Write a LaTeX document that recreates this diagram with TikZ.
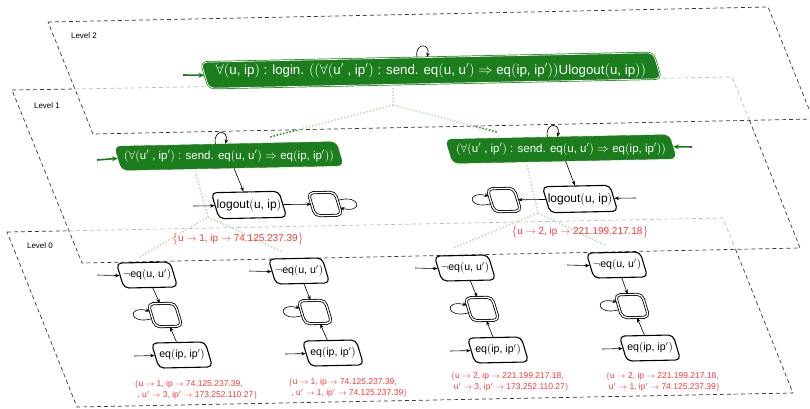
\documentclass[tikz,border=0pt]{standalone}
\usepackage{fontspec}
\setmainfont{Liberation Sans}
\usetikzlibrary{arrows.meta}
\definecolor{G}{RGB}{28,125,28}
\definecolor{Gd}{RGB}{45,145,45}
\definecolor{Gl}{RGB}{185,222,185}
\definecolor{R}{RGB}{250,55,55}
\definecolor{Dk}{RGB}{55,55,55}
\definecolor{Lt}{RGB}{190,190,190}
\newcommand{\bpl}{$\bigl($}
\newcommand{\bpr}{$\bigr)$}
\newcommand{\prm}{$'$}
\newcommand{\myra}{$\rightarrow$}
\newcommand{\lbr}{$\bigl\{$}
\newcommand{\rbr}{$\bigr\}$}
\newcommand{\slbr}{$\{$}
\newcommand{\srbr}{$\}$}
\begin{document}
\begin{tikzpicture}[x=1pt,y=-1pt,
  plane/.style={draw=Dk, line width=0.7pt, dash pattern=on 4pt off 3pt},
  planel/.style={draw=Lt, line width=0.7pt, dash pattern=on 4pt off 3pt},
  sl/.style={xslant=-0.28, rotate=1.2},
  wbox/.style={sl, draw=black, line width=1.1pt, rounded corners=5pt, fill=white, minimum height=25pt, inner sep=0pt},
  accst/.style={sl, draw=black, line width=0.8pt, double=white, double distance=1.3pt, rounded corners=5pt, fill=white, minimum width=27pt, minimum height=23pt, inner sep=0pt},
  gbox/.style={sl, fill=G, draw=G, rounded corners=6pt, minimum height=24pt, inner sep=0pt},
  wtxt/.style={inner sep=0pt, font=\fontsize{12}{14}\selectfont},
  gtxt/.style={inner sep=0pt, text=white},
  arr/.style={-{Stealth[length=4.5pt,width=3.5pt]}, line width=0.6pt, draw=black},
  arrl/.style={-{Stealth[length=4.5pt,width=3.5pt]}, line width=0.6pt, draw=Lt},
  garr/.style={-{Stealth[length=6pt,width=5pt]}, line width=1.6pt, draw=G},
  proj/.style={dash pattern=on 1.5pt off 1.8pt, line width=1.5pt},
  lab/.style={text=R, font=\fontsize{8.5}{10.5}\selectfont, align=left, inner sep=0pt},
  lvl/.style={font=\fontsize{8}{9}\selectfont, inner sep=0pt}
]
\useasboundingbox (0,0) rectangle (810,408);

% ---- planes ----
% Level 2
\draw[plane] (48,22) -- (768,7) -- (813,119) -- (93,134) -- cycle;
% Level 1
\draw[plane] (12,90) -- (75,89);
\draw[planel] (75,89) -- (732,77) -- (749.5,120.3);
\draw[plane] (749.5,120.3) -- (800,248) -- (82,263) -- (12,90);
% Level 0
\draw[plane] (7,232) -- (69,230.8);
\draw[planel] (69,230.8) -- (723,218) -- (735.5,249.3);
\draw[plane] (735.5,249.3) -- (793,393) -- (77,407) -- (7,232);

\node[lvl] (lv2) at (84,36) {Level 2};
\node[lvl] (lv1) at (47,106) {Level 1};
\node[lvl] (lv0) at (40,246) {Level 0};

% ---- projection lines ----
\coordinate (p2) at (393,88);
\coordinate (j2) at (393,105);
\coordinate (p1a) at (270,137);
\coordinate (p1b) at (497,132);
\draw[proj, Gl] (p2) -- (j2) -- (p1a);
\draw[proj, Gl] (j2) -- (p1b);
\begin{scope}
  \clip (0,135.9) -- (820,118.9) -- (820,420) -- (0,420) -- cycle;
  \draw[proj, Gd] (j2) -- (p1a);
  \draw[proj, Gd] (j2) -- (p1b);
\end{scope}
\coordinate (q1a) at (195,171);
\coordinate (k1a) at (208,217);
\coordinate (r1) at (140,257);
\coordinate (r2) at (283,252);
\coordinate (q1b) at (527,165);
\coordinate (k1b) at (538,213);
\coordinate (r3) at (453,248);
\coordinate (r4) at (605,245);
\draw[proj, Gl] (q1a) -- (k1a) -- (r1);
\draw[proj, Gl] (k1a) -- (r2);
\draw[proj, Gl] (q1b) -- (k1b) -- (r3);
\draw[proj, Gl] (k1b) -- (r4);

% ---- Level 2 ----
\node[gbox, double=white, line width=0.7pt, double distance=0.7pt, minimum width=455pt, minimum height=26pt] (L2) at (431,70.5) {};
\node[gtxt, font=\fontsize{13.3}{15}\selectfont] (tL2) at (L2.center) {$\forall$\bpl u, ip\bpr\ : login. \bpl\bpl$\forall$\bpl u\prm\ , ip\prm\bpr\ : send. eq\bpl u, u\prm\bpr\ $\Rightarrow$ eq\bpl ip, ip\prm\bpr\bpr Ulogout\bpl u, ip\bpr\bpr};
\coordinate (i2) at (183,75);
\draw[garr] (i2) -- (L2.west);
\draw[arr] ([xshift=-10pt]L2.north) to[out=100,in=75,min distance=15pt] ([xshift=0pt]L2.north);

% ---- Level 1 ----
\node[gbox, minimum width=223pt] (L1a) at (229,156) {};
\node[gtxt, font=\fontsize{11.5}{13}\selectfont] (tL1a) at (L1a.center) {\bpl$\forall$\bpl u\prm\ , ip\prm\bpr\ : send. eq\bpl u, u\prm\bpr\ $\Rightarrow$ eq\bpl ip, ip\prm\bpr\bpr};
\node[gbox, minimum width=225pt] (L1b) at (561,149) {};
\node[gtxt, font=\fontsize{11.5}{13}\selectfont] (tL1b) at (L1b.center) {\bpl$\forall$\bpl u\prm\ , ip\prm\bpr\ : send. eq\bpl u, u\prm\bpr\ $\Rightarrow$ eq\bpl ip, ip\prm\bpr\bpr};
\coordinate (i1a) at (97,160);
\coordinate (i1b) at (692,147);
\draw[garr] (i1a) -- (L1a.west);
\draw[garr] (i1b) -- (L1b.east);
\draw[arrl] ([xshift=-10pt]L1a.north) to[out=100,in=75,min distance=15pt] ([xshift=0pt]L1a.north);
\draw[arrl] ([xshift=-10pt]L1b.north) to[out=100,in=75,min distance=15pt] ([xshift=0pt]L1b.north);
\begin{scope}
  \clip (0,135.9) -- (820,118.9) -- (820,420) -- (0,420) -- cycle;
  \draw[arr] ([xshift=-10pt]L1a.north) to[out=100,in=75,min distance=15pt] ([xshift=0pt]L1a.north);
  \draw[arr] ([xshift=-10pt]L1b.north) to[out=100,in=75,min distance=15pt] ([xshift=0pt]L1b.north);
\end{scope}

\node[wbox, minimum width=68pt, minimum height=26pt] (LgA) at (249,205) {};
\node[wtxt] (tLgA) at (LgA.center) {logout\bpl u, ip\bpr};
\node[wbox, minimum width=68pt, minimum height=26pt] (LgB) at (580,199) {};
\node[wtxt] (tLgB) at (LgB.center) {logout\bpl u, ip\bpr};
\node[accst] (AcA) at (325,204) {};
\node[accst] (AcB) at (504,200) {};
\coordinate (iLgA) at (193,206);
\coordinate (iLgB) at (636,198);
\draw[arr] (L1a) -- (LgA);
\draw[arr] (L1b) -- (LgB);
\draw[arr] (iLgA) -- (LgA.west);
\draw[arr] (iLgB) -- (LgB.east);
\draw[arr] (LgA) -- (AcA);
\draw[arr] (LgB) -- (AcB);
\draw[arr] (AcA) to[loop right] (AcA);
\draw[arr] (AcB) to[loop left] (AcB);

\node[lab, font=\fontsize{10}{12}\selectfont] (m1a) at (238,239) {\lbr u \myra\ 1, ip \myra\ 74.125.237.39\rbr};
\node[lab, font=\fontsize{10}{12}\selectfont] (m1b) at (580,232) {\lbr u \myra\ 2, ip \myra\ 221.199.217.18\rbr};

% ---- Level 0 ----
\foreach \i/\nx/\ny/\ax/\ay/\ex/\ey in {1/147/275/165/315/182/355, 2/299/271/315/312/333/353, 3/465/268/482/309/498/350, 4/617/265/632/306/650/348}{
  \node[wbox, minimum width=54pt] (N\i) at (\nx,\ny) {};
  \node[wtxt, font=\fontsize{10.6}{12}\selectfont] (tN\i) at (N\i.center) {$\neg$eq\bpl u, u\prm\bpr};
  \node[accst] (A\i) at (\ax,\ay) {};
  \node[wbox, minimum width=54pt] (E\i) at (\ex,\ey) {};
  \node[wtxt, font=\fontsize{10.6}{12}\selectfont] (tE\i) at (E\i.center) {eq\bpl ip, ip\prm\bpr};
  \coordinate (iN\i) at (\nx-50,\ny);
  \coordinate (iE\i) at (\ex-48,\ey+1);
  \draw[arr] (iN\i) -- (N\i.west);
  \draw[arr] (iE\i) -- (E\i.west);
  \draw[arr] (N\i) -- (A\i);
  \draw[arr] (E\i) -- (A\i);
  \draw[arr] (A\i) to[loop left] (A\i);
}

\node[lab] (m01) at (196,390) {\slbr u \myra\ 1, ip \myra\ 74.125.237.39,\\\hspace*{3pt}, u\prm\ \myra\ 3, ip\prm\ \myra\ 173.252.110.27\srbr};
\node[lab] (m02) at (348,388) {\slbr u \myra\ 1, ip \myra\ 74.125.237.39,\\\hspace*{3pt}, u\prm\ \myra\ 1, ip\prm\ \myra\ 74.125.237.39\srbr};
\node[lab] (m03) at (510,382) {\slbr u \myra\ 2, ip \myra\ 221.199.217.18,\\\hspace*{3pt}u\prm\ \myra\ 3, ip\prm\ \myra\ 173.252.110.27\srbr};
\node[lab] (m04) at (663,382) {\slbr u \myra\ 2, ip \myra\ 221.199.217.18,\\\hspace*{3pt}u\prm\ \myra\ 1, ip\prm\ \myra\ 74.125.237.39\srbr};
\end{tikzpicture}
\end{document}
